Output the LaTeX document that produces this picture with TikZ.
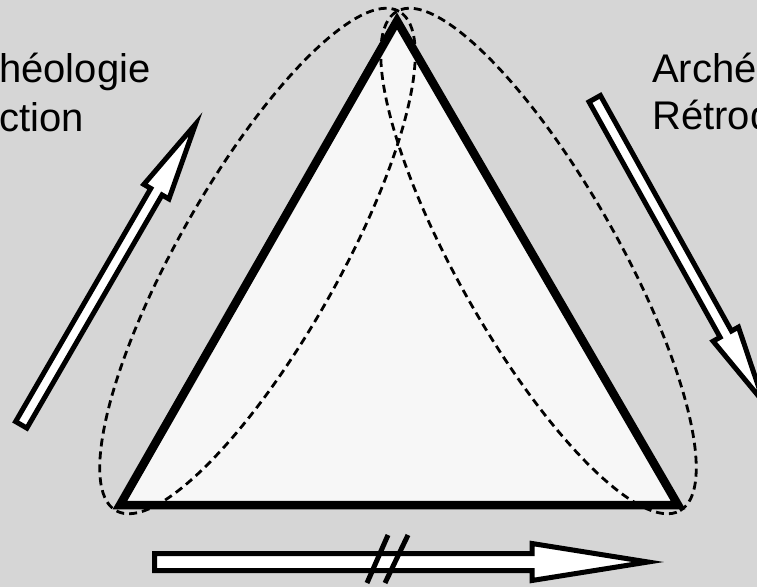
\documentclass[tikz,border=0pt]{standalone}
\usepackage{fontspec}
\setmainfont{Liberation Sans}
\definecolor{bgray}{HTML}{D6D6D6}
\definecolor{trifill}{HTML}{F7F7F7}
\begin{document}
\begin{tikzpicture}[x=1pt,y=1pt,
  tri/.style={line width=8.5pt, line join=miter},
  dashloop/.style={line width=2.8pt, dash pattern=on 8pt off 5pt},
  fatarrow/.style={line width=5pt, fill=white, draw=black, line join=miter},
  slash/.style={line width=5pt},
  lbl/.style={anchor=base west, inner sep=0pt, font=\fontsize{40}{48}\selectfont}]
\useasboundingbox (0,0) rectangle (757,587);
\clip (0,0) rectangle (757,587);
\fill[bgray] (0,0) rectangle (757,587);
% triangle
\coordinate (T) at (397,566);
\coordinate (BL) at (120,82);
\coordinate (BR) at (678,82);
\fill[trifill] (T) -- (BL) -- (BR) -- cycle;
% dashed loops
\draw[dashloop, rotate around={60.45:(257.5,326)}] (257.5,326) ellipse [x radius=287pt, y radius=80pt];
\draw[dashloop, rotate around={-60.45:(538.5,326)}] (538.5,326) ellipse [x radius=287pt, y radius=80pt];
\draw[tri] (T) -- (BL) -- (BR) -- cycle;
% left arrow
\begin{scope}[shift={(20,160)}, rotate=59.9]
\draw[fatarrow] (2.5,-6.5) -- (272,-6.5) -- (272,-14.5) -- (350,0) -- (272,14.5) -- (272,6.5) -- (2.5,6.5) -- cycle;
\end{scope}
% right arrow
\begin{scope}[shift={(593.5,490.5)}, rotate=-60.9]
\draw[fatarrow] (2.5,-6.5) -- (272,-6.5) -- (272,-14.5) -- (350,0) -- (272,14.5) -- (272,6.5) -- (2.5,6.5) -- cycle;
\end{scope}
% bottom arrow
\draw[fatarrow] (154.5,16.5) -- (532,16.5) -- (532,6.5) -- (648,25) -- (532,43.5) -- (532,33.5) -- (154.5,33.5) -- cycle;
\draw[slash] (367,4) -- (388,52);
\draw[slash] (385,4) -- (408,52);
% labels
\node[lbl] (l1) at (-1,504) {héologie};
\node[lbl] (l2) at (-1,455) {ction};
\node[lbl] (r1) at (652,504) {Arché};
\node[lbl] (r2) at (652,457) {Rétrod};
\end{tikzpicture}
\end{document}
